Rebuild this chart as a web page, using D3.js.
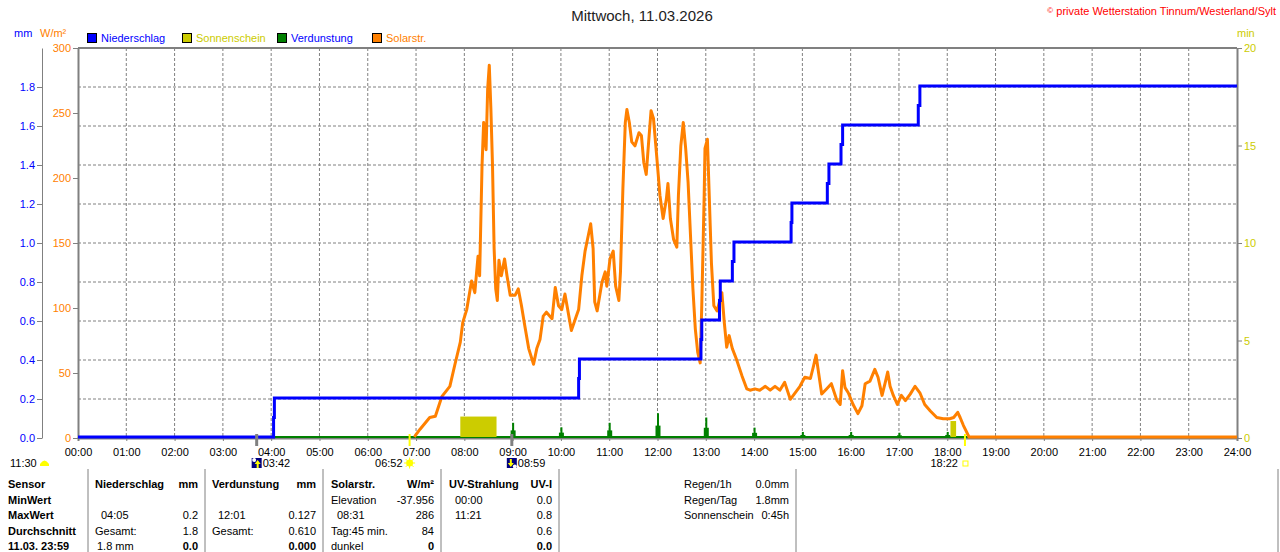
<!DOCTYPE html>
<html>
<head>
<meta charset="utf-8">
<script src="https://cdn.jsdelivr.net/npm/d3@7"></script>
<style>
  html, body { margin: 0; padding: 0; background: #fff; }
  svg { display: block; }
</style>
</head>
<body>
<div id="chart"></div>
<script>
// ---------- data ----------
const titleText = "Mittwoch, 11.03.2026";
const copyrightText = "private Wetterstation Tinnum/Westerland/Sylt";

const hourLabels = ["00:00","01:00","02:00","03:00","04:00","05:00","06:00","07:00","08:00","09:00",
  "10:00","11:00","12:00","13:00","14:00","15:00","16:00","17:00","18:00","19:00","20:00",
  "21:00","22:00","23:00","24:00"];
const mmTicks = [0, 0.2, 0.4, 0.6, 0.8, 1.0, 1.2, 1.4, 1.6, 1.8];
const wTicks = [0, 50, 100, 150, 200, 250, 300];
const minTicks = [0, 5, 10, 15, 20];

const legendLabels = ["Niederschlag", "Sonnenschein", "Verdunstung", "Solarstr."];

// Niederschlag (cumulative mm)
const rainTime = ["00:00","04:03","04:04","10:22","10:23","12:54","12:55","13:17","13:18","13:33",
  "13:35","14:46","14:47","15:31","15:33","15:48","15:50","17:24","17:26","24:00"];
const rainValue = [0, 0.1, 0.2, 0.3, 0.4, 0.5, 0.6, 0.7, 0.8, 0.9,
  1.0, 1.1, 1.2, 1.3, 1.4, 1.5, 1.6, 1.7, 1.8, 1.8];

// Solarstrahlung (W/m²)
const solarTime = ["06:58","06:59","07:05","07:17","07:24","07:32","07:42","07:48","07:55","07:58",
  "08:03","08:09","08:13","08:17","08:19","08:22","08:24","08:27","08:29","08:31",
  "08:33","08:35","08:37","08:39","08:41","08:43","08:46","08:50","08:53","08:57",
  "09:03","09:07","09:11","09:15","09:20","09:26","09:30","09:34","09:38","09:42",
  "09:49","09:53","09:57","10:01","10:05","10:09","10:13","10:18","10:22","10:26",
  "10:30","10:34","10:37","10:40","10:42","10:45","10:51","10:55","10:57","11:01",
  "11:05","11:08","11:12","11:14","11:17","11:20","11:22","11:25","11:28","11:32",
  "11:37","11:40","11:43","11:46","11:49","11:52","11:55","11:59","12:03","12:07",
  "12:11","12:13","12:16","12:20","12:24","12:26","12:29","12:32","12:35","12:38",
  "12:41","12:44","12:47","12:50","12:53","12:55","12:58","12:59","13:02","13:04",
  "13:07","13:10","13:14","13:20","13:23","13:26","13:29","13:33","13:38","13:45",
  "13:51","13:55","14:01","14:07","14:14","14:20","14:26","14:32","14:38","14:45",
  "14:51","14:57","15:03","15:10","15:14","15:17","15:20","15:24","15:30","15:36",
  "15:43","15:47","15:50","15:53","15:57","16:03","16:09","16:14","16:18","16:24",
  "16:30","16:34","16:39","16:43","16:46","16:49","16:53","16:58","17:03","17:08",
  "17:14","17:20","17:26","17:32","17:39","17:47","17:55","18:03","18:08","18:13",
  "18:16","18:20","18:24","18:27","24:00"];
const solarValue = [0, 1, 6, 15, 16, 31, 39, 55, 73, 88,
  98, 120, 111, 139, 124, 209, 242, 221, 268, 286,
  252, 209, 145, 114, 105, 136, 124, 137, 124, 109,
  109, 114, 101, 86, 68, 56, 68, 75, 93, 96,
  91, 115, 101, 98, 110, 96, 82, 91, 98, 124,
  143, 155, 164, 145, 104, 97, 119, 127, 116, 137,
  143, 116, 105, 127, 191, 242, 252, 242, 227, 224,
  234, 232, 211, 202, 227, 251, 245, 216, 186, 168,
  183, 195, 168, 152, 146, 186, 224, 242, 222, 196,
  155, 114, 83, 65, 57, 101, 186, 222, 229, 191,
  134, 101, 97, 111, 88, 69, 78, 68, 60, 47,
  37, 36, 37, 36, 39, 36, 39, 36, 42, 29,
  34, 39, 46, 45, 55, 63, 50, 33, 37, 41,
  28, 25, 51, 38, 34, 25, 18, 24, 41, 43,
  52, 46, 32, 42, 50, 39, 32, 25, 32, 28,
  33, 39, 34, 25, 20, 15, 14, 14, 15, 19,
  15, 9, 4, 0, 0];

// Verdunstung (mm per hour)
const evapTime = ["08:00","09:00","10:00","11:00","12:00","13:00","14:00","15:00","16:00","17:00","18:00"];
const evapValue = [0.025, 0.078, 0.055, 0.078, 0.127, 0.105, 0.053, 0.031, 0.031, 0.027, 0.031];

// Sonnenschein (min)
const sunStart = ["07:55", "18:04"];
const sunEnd = ["08:40", "18:11"];
const sunValue = [1.1, 0.87];

// Sonne / Mond
const moonPhaseLabel = "11:30";
const astroTime = ["03:42", "06:52", "08:59", "18:22"];
const astroType = ["moonrise", "sunrise", "moonset", "sunset"];

// Tabelle
const sensorLabels = ["Sensor", "MinWert", "MaxWert", "Durchschnitt", "11.03. 23:59"];
const rainCol = [["Niederschlag","mm"], ["",""], ["04:05","0.2"], ["Gesamt:","1.8"], ["1.8 mm","0.0"]];
const evapCol = [["Verdunstung","mm"], ["",""], ["12:01","0.127"], ["Gesamt:","0.610"], ["","0.000"]];
const solarCol = [["Solarstr.","W/m²"], ["Elevation","-37.956"], ["08:31","286"], ["Tag:45 min.","84"], ["dunkel","0"]];
const uvCol = [["UV-Strahlung","UV-I"], ["00:00","0.0"], ["11:21","0.8"], ["","0.6"], ["","0.0"]];
const summaryLabels = ["Regen/1h", "Regen/Tag", "Sonnenschein"];
const summaryValues = ["0.0mm", "1.8mm", "0:45h"];

// ---------- layout ----------
const width = 1280, height = 552;
const margin = { top: 48, right: 43, bottom: 114, left: 78 };
const innerWidth = width - margin.left - margin.right;
const innerHeight = height - margin.top - margin.bottom;

const FONT = "Liberation Sans, Arial, sans-serif";
const BLUE = "#0000ff", ORANGE = "#ff8000", YELLOW = "#cccc00", GREEN = "#008000", GRAY = "#808080";

const toMin = s => { const [h, m] = s.split(":").map(Number); return h * 60 + m; };

const svg = d3.select("#chart")
  .append("svg")
    .attr("width", width)
    .attr("height", height)
    .attr("viewBox", `0 0 ${width} ${height}`)
    .attr("font-family", FONT)
    .attr("font-size", 11);

const innerChart = svg.append("g")
  .attr("transform", `translate(${margin.left}, ${margin.top})`);

// ---------- scales ----------
const xScale = d3.scaleLinear().domain([0, 1440]).range([0, innerWidth]);
const yW = d3.scaleLinear().domain([0, 300]).range([innerHeight, 0]);
const yMm = d3.scaleLinear().domain([0, 2]).range([innerHeight, 0]);
const yMin = d3.scaleLinear().domain([0, 20]).range([innerHeight, 0]);

// ---------- grid ----------
innerChart.append("g")
  .selectAll("line")
  .data(hourLabels.slice(1, -1))
  .join("line")
    .attr("x1", d => xScale(toMin(d)))
    .attr("x2", d => xScale(toMin(d)))
    .attr("y1", 0)
    .attr("y2", innerHeight)
    .attr("stroke", GRAY)
    .attr("stroke-dasharray", "3,2");

innerChart.append("g")
  .selectAll("line")
  .data(mmTicks.slice(1))
  .join("line")
    .attr("x1", 0)
    .attr("x2", innerWidth)
    .attr("y1", d => yMm(d))
    .attr("y2", d => yMm(d))
    .attr("stroke", GRAY)
    .attr("stroke-dasharray", "3,2");

// ---------- axes ----------
const styleAxis = (g, color) => {
  g.attr("font-family", FONT).attr("font-size", 11);
  g.selectAll(".tick line").attr("stroke", GRAY);
  g.selectAll(".tick text").attr("fill", color);
  g.select(".domain").attr("stroke", GRAY);
};

// bottom
const bottomAxis = d3.axisBottom(xScale)
  .tickValues(hourLabels.map(toMin))
  .tickFormat((d, i) => hourLabels[i])
  .tickSize(3)
  .tickPadding(7);
innerChart.append("g")
  .attr("transform", `translate(0, ${innerHeight})`)
  .call(bottomAxis)
  .call(g => styleAxis(g, "#000"))
  .call(g => g.select(".domain").attr("stroke-width", 2));

// left mm
const mmAxis = d3.axisLeft(yMm)
  .tickValues(mmTicks)
  .tickFormat(d3.format(".1f"))
  .tickSize(5)
  .tickSizeOuter(0)
  .tickPadding(2);
svg.append("g")
  .attr("transform", `translate(42, ${margin.top})`)
  .call(mmAxis)
  .call(g => styleAxis(g, BLUE));

// left W/m²
const wAxis = d3.axisLeft(yW)
  .tickValues(wTicks)
  .tickSize(5)
  .tickSizeOuter(0)
  .tickPadding(2);
innerChart.append("g")
  .call(wAxis)
  .call(g => styleAxis(g, ORANGE))
  .call(g => g.select(".domain").attr("stroke-width", 2));

// right min
const minAxis = d3.axisRight(yMin)
  .tickValues(minTicks)
  .tickSize(5)
  .tickSizeOuter(0)
  .tickPadding(2);
innerChart.append("g")
  .attr("transform", `translate(${innerWidth}, 0)`)
  .call(minAxis)
  .call(g => styleAxis(g, YELLOW))
  .call(g => g.select(".domain").attr("stroke-width", 2));

// top border
innerChart.append("line")
  .attr("x1", 0).attr("x2", innerWidth)
  .attr("y1", 0).attr("y2", 0)
  .attr("stroke", GRAY)
  .attr("stroke-width", 2);

// unit labels
svg.append("text").text("mm").attr("x", 14).attr("y", 37).attr("fill", BLUE);
svg.append("text").text("W/m²").attr("x", 40).attr("y", 37).attr("fill", ORANGE);
svg.append("text").text("min").attr("x", margin.left + innerWidth).attr("y", 37).attr("fill", YELLOW);

// ---------- series ----------
// Verdunstung: baseline + hourly spikes
innerChart.append("line")
  .attr("x1", xScale(0)).attr("x2", xScale(1440))
  .attr("y1", yMm(0) - 1).attr("y2", yMm(0) - 1)
  .attr("stroke", GREEN)
  .attr("stroke-width", 2);

const evapData = evapTime.map((t, i) => ({ t: toMin(t), v: evapValue[i] }));
innerChart.append("g")
  .selectAll("rect")
  .data(evapData)
  .join("rect")
    .attr("x", d => xScale(d.t) - 2)
    .attr("width", 5)
    .attr("y", d => yMm(d.v / 2))
    .attr("height", d => yMm(0) - yMm(d.v / 2))
    .attr("fill", GREEN);
innerChart.append("g")
  .selectAll("rect")
  .data(evapData)
  .join("rect")
    .attr("x", d => xScale(d.t) - 0.5)
    .attr("width", 2)
    .attr("y", d => yMm(d.v))
    .attr("height", d => yMm(0) - yMm(d.v))
    .attr("fill", GREEN);

// Sonnenschein
innerChart.append("g")
  .selectAll("rect")
  .data(sunStart.map((s, i) => ({ s: toMin(s), e: toMin(sunEnd[i]), v: sunValue[i] })))
  .join("rect")
    .attr("x", d => xScale(d.s))
    .attr("width", d => xScale(d.e) - xScale(d.s))
    .attr("y", d => yMin(d.v))
    .attr("height", d => yMin(0) - yMin(d.v) - 1)
    .attr("fill", YELLOW);

// Solarstrahlung
const solarData = solarTime.map((t, i) => ({ t: toMin(t), v: solarValue[i] }));
const solarLine = d3.line()
  .x(d => xScale(d.t))
  .y(d => yW(d.v) - 1);
innerChart.append("path")
  .datum(solarData)
  .attr("d", solarLine)
  .attr("fill", "none")
  .attr("stroke", ORANGE)
  .attr("stroke-width", 3)
  .attr("stroke-linejoin", "round");

// Niederschlag
const rainData = rainTime.map((t, i) => ({ t: toMin(t), v: rainValue[i] }));
const rainLine = d3.line()
  .curve(d3.curveStepAfter)
  .x(d => xScale(d.t))
  .y(d => yMm(d.v) - 1);
innerChart.append("path")
  .datum(rainData)
  .attr("d", rainLine)
  .attr("fill", "none")
  .attr("stroke", BLUE)
  .attr("stroke-width", 3);

// ---------- sun & moon markers ----------
const astro = astroTime.map((t, i) => ({ t: toMin(t), label: t, type: astroType[i] }));
const markerY = margin.top + innerHeight;

astro.forEach(d => {
  const cx = margin.left + xScale(d.t);
  const isSun = d.type.startsWith("sun");
  // tick on the time axis
  svg.append("line")
    .attr("x1", cx).attr("x2", cx)
    .attr("y1", markerY - 4).attr("y2", markerY + 8)
    .attr("stroke", isSun ? "#ffff00" : GRAY)
    .attr("stroke-width", isSun ? 2 : 3);

  const g = svg.append("g").attr("transform", `translate(${cx}, 463)`);
  if (d.type === "moonrise" || d.type === "moonset") {
    g.append("rect").attr("x", -5).attr("y", -5).attr("width", 10).attr("height", 10).attr("fill", "#000080");
    const up = d.type === "moonrise";
    g.append("circle").attr("cx", up ? -2.5 : 3).attr("cy", up ? -3 : 3.5).attr("r", 2).attr("fill", "#fff");
    g.append("path")
      .attr("d", up ? "M1,-3 L4,1 L2,1 L2,5 L0,5 L0,1 L-2,1 Z" : "M-1,4 L2,0 L0,0 L0,-4 L-2,-4 L-2,0 L-4,0 Z")
      .attr("fill", "#ffff00");
    svg.append("text").text(d.label).attr("x", cx + 6).attr("y", 467);
  } else if (d.type === "sunrise") {
    d3.range(8).forEach(k => {
      const a = k * Math.PI / 4;
      g.append("line")
        .attr("x1", Math.cos(a) * 3).attr("y1", Math.sin(a) * 3)
        .attr("x2", Math.cos(a) * 5.5).attr("y2", Math.sin(a) * 5.5)
        .attr("stroke", "#ffff00");
    });
    g.append("circle").attr("r", 3.5).attr("fill", "#ffff00");
    svg.append("text").text(d.label).attr("x", cx - 7).attr("y", 467).attr("text-anchor", "end");
  } else {
    g.append("rect").attr("x", -2).attr("y", -2).attr("width", 5).attr("height", 5)
      .attr("fill", "none").attr("stroke", "#ffff00");
    svg.append("text").text(d.label).attr("x", cx - 7).attr("y", 467).attr("text-anchor", "end");
  }
});

// moon phase at the left
svg.append("text").text(moonPhaseLabel).attr("x", 10).attr("y", 467);
svg.append("path")
  .attr("d", "M40,466 L40,464 Q44.5,457 49,464 L49,466 Z")
  .attr("fill", "#ffff00");

// ---------- legend ----------
const legendFill = [BLUE, YELLOW, GREEN, ORANGE];
const legendText = [BLUE, YELLOW, BLUE, ORANGE];
const legend = svg.append("g")
  .selectAll("g")
  .data(legendLabels)
  .join("g")
    .attr("transform", (d, i) => `translate(${87 + i * 95}, 33)`);
legend.append("rect")
  .attr("x", 0.5).attr("y", 0.5)
  .attr("width", 9).attr("height", 9)
  .attr("fill", (d, i) => legendFill[i])
  .attr("stroke", "#000");
legend.append("text")
  .text(d => d)
  .attr("x", 14)
  .attr("y", 9)
  .attr("fill", (d, i) => legendText[i]);

// ---------- title ----------
svg.append("text")
  .text(titleText)
  .attr("x", 642)
  .attr("y", 21)
  .attr("text-anchor", "middle")
  .attr("font-size", 15)
  .attr("fill", "#222");

const copy = svg.append("text")
  .attr("x", 1276)
  .attr("y", 15)
  .attr("text-anchor", "end")
  .attr("fill", "#ff0000");
copy.append("tspan").text("©").attr("font-size", 8).attr("dy", -2);
copy.append("tspan").text(" " + copyrightText).attr("dy", 2);

// ---------- table ----------
const rowY = d3.range(5).map(i => 488 + i * 15.5);
const table = svg.append("g");

[88, 205, 323, 441, 559, 796, 1278].forEach(x => {
  table.append("line")
    .attr("x1", x).attr("x2", x)
    .attr("y1", 469).attr("y2", height)
    .attr("stroke", GRAY);
});

sensorLabels.forEach((s, i) => {
  table.append("text").text(s).attr("x", 8).attr("y", rowY[i]).attr("font-weight", "bold");
});

const isTime = s => /^\d\d:\d\d$/.test(s);
const columns = [
  { rows: rainCol, left: 95, right: 198 },
  { rows: evapCol, left: 212, right: 316 },
  { rows: solarCol, left: 331, right: 434 },
  { rows: uvCol, left: 449, right: 552 }
];
columns.forEach(col => {
  col.rows.forEach((r, i) => {
    const head = i === 0, last = i === 4;
    if (r[0]) {
      table.append("text")
        .text(r[0])
        .attr("x", col.left + (isTime(r[0]) ? 6 : (r[0] === "1.8 mm" ? 2 : 0)))
        .attr("y", rowY[i])
        .attr("font-weight", head ? "bold" : null);
    }
    if (r[1]) {
      table.append("text")
        .text(r[1])
        .attr("x", col.right)
        .attr("y", rowY[i])
        .attr("text-anchor", "end")
        .attr("font-weight", head || last ? "bold" : null);
    }
  });
});

summaryLabels.forEach((s, i) => {
  table.append("text").text(s).attr("x", 684).attr("y", rowY[i]);
  table.append("text").text(summaryValues[i]).attr("x", 789).attr("y", rowY[i]).attr("text-anchor", "end");
});
</script>
</body>
</html>
